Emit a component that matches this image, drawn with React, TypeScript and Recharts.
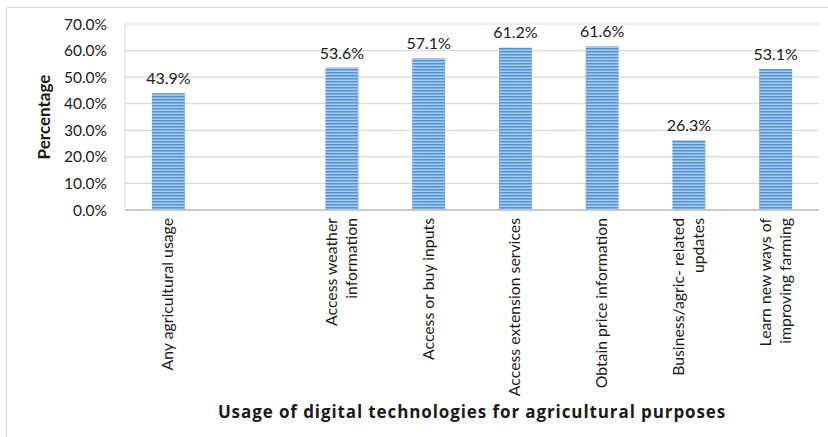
import { BarChart, Bar, XAxis, YAxis, CartesianGrid, LabelList, Label } from "recharts";

const categories = [
  "Any agricultural usage",
  " ",
  "Access weather\ninformation",
  "Access or buy inputs",
  "Access extension services",
  "Obtain price information",
  "Business/agric- related\nupdates",
  "Learn new ways of\nimproving farming",
];
const percentages: (number | null)[] = [43.9, null, 53.6, 57.1, 61.2, 61.6, 26.3, 53.1];
const yTicks = [0, 10, 20, 30, 40, 50, 60, 70];

const data = categories.map((name, i) => ({ name, value: percentages[i] }));

const FONT = "Lato, 'Open Sans', sans-serif";

const CategoryTick = ({ x, y, payload }: { x?: number; y?: number; payload?: { value: string } }) => {
  const lines = (payload?.value ?? "").split("\n");
  const lh = 20;
  return (
    <g transform={`translate(${x},${y})`}>
      <text transform="rotate(-90)" textAnchor="end" fill="#1a1a1a" fontSize={15.8} fontFamily={FONT}>
        {lines.map((l, i) => (
          <tspan key={i} x={0} y={(i - (lines.length - 1) / 2) * lh + 5}>
            {l}
          </tspan>
        ))}
      </text>
    </g>
  );
};

export default function App() {
  return (
    <div style={{ position: "fixed", left: 0, top: 0, width: 828, height: 437, overflow: "hidden", background: "#fff" }}>
      {/* outer frame of the original figure */}
      <div style={{ position: "absolute", left: 6, top: 7, width: 900, height: 600, border: "1px solid #d9d9d9" }} />
      <div style={{ position: "absolute", left: 0, top: 0 }}>
        <BarChart
          width={828}
          height={437}
          data={data}
          margin={{ top: 24, right: 9, bottom: 0, left: 0 }}
          barCategoryGap="31%"
        >
          <defs>
            <pattern id="stripes" patternUnits="userSpaceOnUse" width={6} height={3}>
              <rect width={6} height={3} fill="#a8cbee" />
              <rect width={6} height={1.5} fill="#5593d6" />
            </pattern>
          </defs>
          <CartesianGrid vertical={false} stroke="#d9d9d9" strokeWidth={1.2} />
          <XAxis
            dataKey="name"
            interval={0}
            height={227}
            tickLine={false}
            stroke="#bfbfbf"
            strokeWidth={1.6}
            tick={<CategoryTick />}
          >
            <Label
              content={({ viewBox }: any) => (
                <text
                  x={viewBox.x + viewBox.width / 2}
                  y={418}
                  textAnchor="middle"
                  fontSize={17}
                  fontWeight="bold"
                  letterSpacing={0.9}
                  fontFamily="'Open Sans', sans-serif"
                  fill="#1a1a1a"
                >
                  Usage of digital technologies for agricultural purposes
                </text>
              )}
            />
          </XAxis>
          <YAxis
            width={125}
            domain={[0, 70]}
            ticks={yTicks}
            tickLine={false}
            tickSize={0}
            tickMargin={18}
            stroke="#d9d9d9"
            tick={{ fill: "#1a1a1a", fontSize: 15.5, fontFamily: FONT }}
            tickFormatter={(v: number) => `${v.toFixed(1)}%`}
          >
            <Label
              content={() => (
                <text
                  transform="translate(50,117) rotate(-90)"
                  textAnchor="middle"
                  fontSize={17}
                  fontWeight="bold"
                  fontFamily={FONT}
                  fill="#1a1a1a"
                >
                  Percentage
                </text>
              )}
            />
          </YAxis>
          <Bar dataKey="value" fill="url(#stripes)" isAnimationActive={false}>
            <LabelList
              dataKey="value"
              position="top"
              offset={9}
              fill="#1a1a1a"
              fontSize={16}
              fontFamily={FONT}
              formatter={(v: any) => (v == null ? "" : `${Number(v).toFixed(1)}%`)}
            />
          </Bar>
        </BarChart>
      </div>
    </div>
  );
}
